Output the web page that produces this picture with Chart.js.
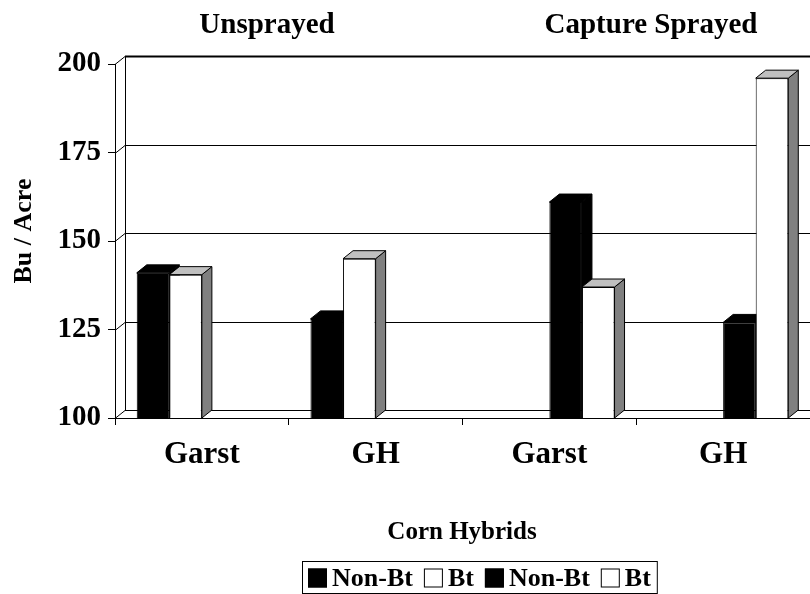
<!DOCTYPE html>
<html>
<head>
<meta charset="utf-8">
<script src="https://cdn.jsdelivr.net/npm/chart.js@4.4.1/dist/chart.umd.min.js"></script>
<style>
  html, body { margin: 0; padding: 0; background: #fff; }
  #wrap { width: 810px; height: 594px; }
</style>
</head>
<body>
<div id="wrap"><canvas id="c" width="810" height="594"></canvas></div>
<script>
// ---- data ----
const categories = ['Garst', 'GH', 'Garst', 'GH'];
const unsprayedNonBt = [141, 128, null, null];
const unsprayedBt = [140.5, 145, null, null];
const sprayedNonBt = [null, null, 161, 127];
const sprayedBt = [null, null, 137, 196];
const yTickValues = [100, 125, 150, 175, 200];
const seriesLabels = ['Non-Bt', 'Bt', 'Non-Bt', 'Bt'];
const groupTitles = ['Unsprayed', 'Capture Sprayed'];
const yAxisTitle = 'Bu / Acre';
const xAxisTitle = 'Corn Hybrids';

// ---- styles ----
const FONT = '"Liberation Serif", "Times New Roman", Times, serif';
const DX = 10, DY = 8;
const faceStyles = [
  { front: '#000000', top: '#000000', side: '#000000' },
  { front: '#ffffff', top: '#c0c0c0', side: '#808080' },
  { front: '#000000', top: '#000000', side: '#000000' },
  { front: '#ffffff', top: '#c0c0c0', side: '#808080' }
];

function line(ctx, x1, y1, x2, y2) {
  ctx.beginPath(); ctx.moveTo(x1, y1); ctx.lineTo(x2, y2); ctx.stroke();
}

const threeD = {
  id: 'threeD',
  beforeDatasetsDraw(chart) {
    const { ctx, chartArea: a, scales: { x, y } } = chart;
    ctx.save();
    ctx.strokeStyle = '#000';
    ctx.lineWidth = 1;
    // back wall + left wall lines
    yTickValues.forEach(v => {
      const py = Math.round(y.getPixelForValue(v)) + 0.5;
      line(ctx, a.left, py, a.left + DX, py - DY);
      ctx.lineWidth = (v === yTickValues[yTickValues.length - 1]) ? 2 : 1;
      line(ctx, a.left + DX, py - DY, a.right + DX + 20, py - DY);
      ctx.lineWidth = 1;
    });
    const topY = Math.round(y.getPixelForValue(yTickValues[yTickValues.length - 1])) + 0.5;
    const botY = Math.round(y.getPixelForValue(yTickValues[0])) + 0.5;
    line(ctx, a.left + DX + 0.5, topY - DY, a.left + DX + 0.5, botY - DY);

    // bar extrusions (top + side faces)
    const items = [];
    chart.data.datasets.forEach((ds, i) => {
      const meta = chart.getDatasetMeta(i);
      meta.data.forEach((el, j) => {
        if (ds.data[j] == null) return;
        const p = el.getProps(['x', 'y', 'base', 'width'], true);
        items.push({ p, st: faceStyles[i] });
      });
    });
    items.sort((m, n) => m.p.x - n.p.x);
    items.forEach(({ p, st }) => {
      const l = p.x - p.width / 2, r = p.x + p.width / 2, t = p.y;
      const b = Math.min(p.base, a.bottom);
      // side face
      ctx.beginPath();
      ctx.moveTo(r, t); ctx.lineTo(r + DX, t - DY); ctx.lineTo(r + DX, b - DY); ctx.lineTo(r, b); ctx.closePath();
      ctx.fillStyle = st.side; ctx.fill(); ctx.stroke();
      // top face
      ctx.beginPath();
      ctx.moveTo(l, t); ctx.lineTo(l + DX, t - DY); ctx.lineTo(r + DX, t - DY); ctx.lineTo(r, t); ctx.closePath();
      ctx.fillStyle = st.top; ctx.fill(); ctx.stroke();
    });
    ctx.restore();
  },
  afterDraw(chart) {
    const { ctx } = chart;
    ctx.save();
    ctx.fillStyle = '#000';
    // group titles
    ctx.font = 'bold 29px ' + FONT;
    ctx.textAlign = 'center';
    ctx.textBaseline = 'alphabetic';
    ctx.fillText(groupTitles[0], 267, 33);
    ctx.fillText(groupTitles[1], 651, 33);
    // y axis title
    ctx.save();
    ctx.translate(31, 231);
    ctx.rotate(-Math.PI / 2);
    ctx.font = 'bold 26px ' + FONT;
    ctx.textBaseline = 'alphabetic';
    ctx.fillText(yAxisTitle, 0, 0);
    ctx.restore();
    // x axis title
    ctx.font = 'bold 25px ' + FONT;
    ctx.textBaseline = 'middle';
    ctx.fillText(xAxisTitle, 462, 533);
    // legend
    ctx.font = 'bold 26px ' + FONT;
    ctx.textAlign = 'left';
    const sq = 19, gapBox = 5, gapItem = 11, pad = 6;
    let total = pad * 2;
    seriesLabels.forEach((lb, i) => {
      total += sq + gapBox + ctx.measureText(lb).width + (i < seriesLabels.length - 1 ? gapItem : 0);
    });
    const lx = 302, ly = 561, lh = 32;
    ctx.strokeStyle = '#000';
    ctx.lineWidth = 1;
    ctx.strokeRect(lx + 0.5, ly + 0.5, total, lh);
    let cx = lx + pad;
    const cy = ly + lh / 2 + 1;
    seriesLabels.forEach((lb, i) => {
      ctx.fillStyle = faceStyles[i].front;
      ctx.fillRect(cx, cy - sq / 2, sq, sq);
      ctx.strokeRect(cx + 0.5, cy - sq / 2 + 0.5, sq - 1, sq - 1);
      cx += sq + gapBox;
      ctx.fillStyle = '#000';
      ctx.textBaseline = 'middle';
      ctx.fillText(lb, cx, cy + 1);
      cx += ctx.measureText(lb).width + gapItem;
    });
    ctx.restore();
  }
};

const seriesData = [unsprayedNonBt, unsprayedBt, sprayedNonBt, sprayedBt];
const datasets = seriesData.map((d, i) => ({
  label: seriesLabels[i],
  data: d,
  backgroundColor: faceStyles[i].front,
  borderColor: '#000',
  borderWidth: 1,
  borderSkipped: false,
  categoryPercentage: 0.75,
  barPercentage: 1.0
}));

new Chart(document.getElementById('c'), {
  type: 'bar',
  data: { labels: categories, datasets },
  options: {
    responsive: false,
    animation: false,
    devicePixelRatio: 1,
    layout: { padding: { top: 64, left: 0, right: 0, bottom: 0 } },
    plugins: { legend: { display: false }, tooltip: { enabled: false }, title: { display: false } },
    scales: {
      x: {
        grid: { drawOnChartArea: false, drawTicks: true, tickLength: 7, color: '#000', offset: true },
        border: { color: '#000', width: 1 },
        ticks: { color: '#000', font: { family: FONT, size: 31, weight: 'bold' }, padding: 11, maxRotation: 0 },
        afterFit(s) { s.height = 176; }
      },
      y: {
        min: 100, max: 200,
        afterBuildTicks(s) { s.ticks = yTickValues.map(v => ({ value: v })); },
        grid: { drawOnChartArea: false, drawTicks: true, tickLength: 7, color: '#000' },
        border: { color: '#000', width: 1 },
        ticks: { color: '#000', font: { family: FONT, size: 29, weight: 'bold' }, padding: 7 },
        afterFit(s) { s.width = 115; }
      }
    }
  },
  plugins: [threeD]
});
</script>
</body>
</html>
